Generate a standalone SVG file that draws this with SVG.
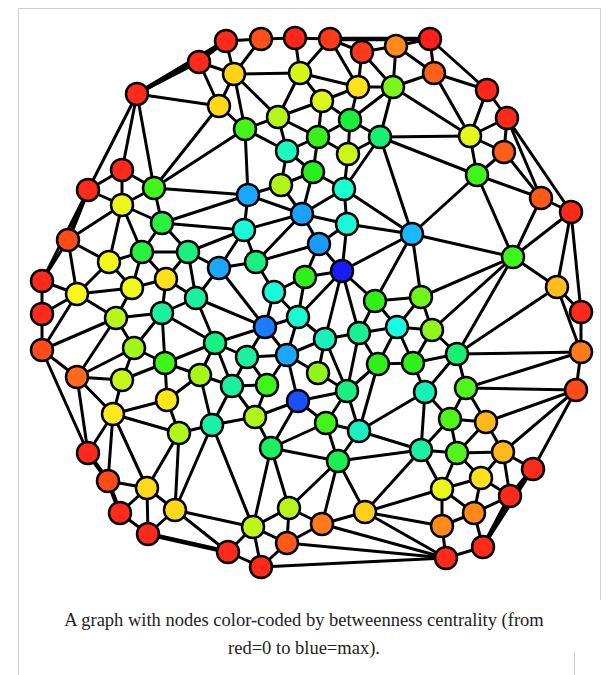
<svg xmlns="http://www.w3.org/2000/svg" width="608" height="675" viewBox="0 0 608 675">
<style>
.e{stroke:#000;stroke-width:3;stroke-linecap:round}
.t{stroke-width:4.5}
.n circle{stroke:#000;stroke-width:2.5}
.cap{font-family:"Liberation Serif","Times New Roman",serif;font-size:18.5px;fill:#222;text-anchor:middle}
</style>
<rect x="0" y="0" width="608" height="675" fill="#fff"/>
<path d="M18.5,675 V8.5 H600.5 V600" fill="none" stroke="#d0d0d0" stroke-width="1"/>
<path d="M574.5,652 V675" fill="none" stroke="#d0d0d0" stroke-width="1"/>
<g id="connectors">
<line class="e t" x1="137" y1="94" x2="226" y2="41"/>
<line class="e" x1="137" y1="94" x2="199" y2="62"/>
<line class="e" x1="137" y1="94" x2="219" y2="106"/>
<line class="e" x1="137" y1="94" x2="122" y2="170"/>
<line class="e" x1="137" y1="94" x2="88" y2="190"/>
<line class="e" x1="137" y1="94" x2="154" y2="188"/>
<line class="e" x1="226" y1="41" x2="261" y2="39"/>
<line class="e" x1="226" y1="41" x2="199" y2="62"/>
<line class="e" x1="226" y1="41" x2="234" y2="74"/>
<line class="e" x1="261" y1="39" x2="295" y2="38"/>
<line class="e" x1="261" y1="39" x2="234" y2="74"/>
<line class="e" x1="295" y1="38" x2="330" y2="39"/>
<line class="e" x1="295" y1="38" x2="300" y2="73"/>
<line class="e" x1="330" y1="39" x2="362" y2="52"/>
<line class="e t" x1="330" y1="39" x2="430" y2="39"/>
<line class="e" x1="330" y1="39" x2="300" y2="73"/>
<line class="e" x1="330" y1="39" x2="358" y2="87"/>
<line class="e" x1="362" y1="52" x2="396" y2="46"/>
<line class="e" x1="362" y1="52" x2="358" y2="87"/>
<line class="e" x1="362" y1="52" x2="393" y2="87"/>
<line class="e" x1="396" y1="46" x2="430" y2="39"/>
<line class="e" x1="396" y1="46" x2="393" y2="87"/>
<line class="e" x1="396" y1="46" x2="434" y2="73"/>
<line class="e" x1="430" y1="39" x2="434" y2="73"/>
<line class="e" x1="430" y1="39" x2="487" y2="90"/>
<line class="e" x1="199" y1="62" x2="234" y2="74"/>
<line class="e" x1="199" y1="62" x2="219" y2="106"/>
<line class="e" x1="234" y1="74" x2="300" y2="73"/>
<line class="e" x1="234" y1="74" x2="219" y2="106"/>
<line class="e" x1="234" y1="74" x2="245" y2="129"/>
<line class="e" x1="234" y1="74" x2="278" y2="117"/>
<line class="e" x1="300" y1="73" x2="358" y2="87"/>
<line class="e" x1="300" y1="73" x2="322" y2="101"/>
<line class="e" x1="300" y1="73" x2="278" y2="117"/>
<line class="e" x1="358" y1="87" x2="393" y2="87"/>
<line class="e" x1="358" y1="87" x2="322" y2="101"/>
<line class="e" x1="358" y1="87" x2="350" y2="120"/>
<line class="e" x1="393" y1="87" x2="350" y2="120"/>
<line class="e" x1="393" y1="87" x2="380" y2="137"/>
<line class="e" x1="393" y1="87" x2="434" y2="73"/>
<line class="e" x1="393" y1="87" x2="470" y2="136"/>
<line class="e" x1="434" y1="73" x2="470" y2="136"/>
<line class="e" x1="434" y1="73" x2="487" y2="90"/>
<line class="e" x1="487" y1="90" x2="507" y2="118"/>
<line class="e" x1="487" y1="90" x2="470" y2="136"/>
<line class="e" x1="507" y1="118" x2="470" y2="136"/>
<line class="e" x1="507" y1="118" x2="504" y2="152"/>
<line class="e" x1="507" y1="118" x2="541" y2="198"/>
<line class="e" x1="507" y1="118" x2="571" y2="212"/>
<line class="e" x1="470" y1="136" x2="504" y2="152"/>
<line class="e" x1="470" y1="136" x2="477" y2="175"/>
<line class="e" x1="470" y1="136" x2="380" y2="137"/>
<line class="e" x1="504" y1="152" x2="541" y2="198"/>
<line class="e" x1="504" y1="152" x2="477" y2="175"/>
<line class="e" x1="477" y1="175" x2="541" y2="198"/>
<line class="e" x1="477" y1="175" x2="380" y2="137"/>
<line class="e" x1="477" y1="175" x2="412" y2="234"/>
<line class="e" x1="477" y1="175" x2="513" y2="257"/>
<line class="e" x1="541" y1="198" x2="571" y2="212"/>
<line class="e" x1="541" y1="198" x2="513" y2="257"/>
<line class="e" x1="571" y1="212" x2="513" y2="257"/>
<line class="e" x1="571" y1="212" x2="557" y2="287"/>
<line class="e" x1="571" y1="212" x2="581" y2="312"/>
<line class="e" x1="219" y1="106" x2="245" y2="129"/>
<line class="e" x1="219" y1="106" x2="154" y2="188"/>
<line class="e" x1="322" y1="101" x2="350" y2="120"/>
<line class="e" x1="322" y1="101" x2="318" y2="137"/>
<line class="e" x1="322" y1="101" x2="278" y2="117"/>
<line class="e" x1="278" y1="117" x2="245" y2="129"/>
<line class="e" x1="278" y1="117" x2="287" y2="151"/>
<line class="e" x1="278" y1="117" x2="318" y2="137"/>
<line class="e" x1="245" y1="129" x2="287" y2="151"/>
<line class="e" x1="245" y1="129" x2="248" y2="195"/>
<line class="e" x1="245" y1="129" x2="154" y2="188"/>
<line class="e" x1="350" y1="120" x2="318" y2="137"/>
<line class="e" x1="350" y1="120" x2="348" y2="154"/>
<line class="e" x1="350" y1="120" x2="380" y2="137"/>
<line class="e" x1="318" y1="137" x2="348" y2="154"/>
<line class="e" x1="318" y1="137" x2="313" y2="172"/>
<line class="e" x1="318" y1="137" x2="287" y2="151"/>
<line class="e" x1="380" y1="137" x2="348" y2="154"/>
<line class="e" x1="380" y1="137" x2="344" y2="189"/>
<line class="e" x1="380" y1="137" x2="412" y2="234"/>
<line class="e" x1="348" y1="154" x2="344" y2="189"/>
<line class="e" x1="287" y1="151" x2="281" y2="185"/>
<line class="e" x1="287" y1="151" x2="313" y2="172"/>
<line class="e" x1="313" y1="172" x2="344" y2="189"/>
<line class="e" x1="313" y1="172" x2="302" y2="214"/>
<line class="e" x1="313" y1="172" x2="281" y2="185"/>
<line class="e" x1="281" y1="185" x2="302" y2="214"/>
<line class="e" x1="281" y1="185" x2="248" y2="195"/>
<line class="e" x1="344" y1="189" x2="347" y2="224"/>
<line class="e" x1="344" y1="189" x2="302" y2="214"/>
<line class="e" x1="344" y1="189" x2="412" y2="234"/>
<line class="e" x1="122" y1="170" x2="88" y2="190"/>
<line class="e" x1="122" y1="170" x2="154" y2="188"/>
<line class="e" x1="122" y1="170" x2="122" y2="205"/>
<line class="e" x1="88" y1="190" x2="122" y2="205"/>
<line class="e t" x1="88" y1="190" x2="68" y2="240"/>
<line class="e" x1="88" y1="190" x2="42" y2="281"/>
<line class="e" x1="154" y1="188" x2="122" y2="205"/>
<line class="e" x1="154" y1="188" x2="162" y2="223"/>
<line class="e" x1="154" y1="188" x2="248" y2="195"/>
<line class="e" x1="122" y1="205" x2="68" y2="240"/>
<line class="e" x1="122" y1="205" x2="109" y2="262"/>
<line class="e" x1="122" y1="205" x2="142" y2="252"/>
<line class="e" x1="122" y1="205" x2="162" y2="223"/>
<line class="e" x1="68" y1="240" x2="42" y2="281"/>
<line class="e" x1="68" y1="240" x2="77" y2="294"/>
<line class="e" x1="68" y1="240" x2="109" y2="262"/>
<line class="e" x1="109" y1="262" x2="142" y2="252"/>
<line class="e" x1="109" y1="262" x2="132" y2="288"/>
<line class="e" x1="109" y1="262" x2="77" y2="294"/>
<line class="e" x1="142" y1="252" x2="162" y2="223"/>
<line class="e" x1="142" y1="252" x2="132" y2="288"/>
<line class="e" x1="142" y1="252" x2="188" y2="252"/>
<line class="e" x1="142" y1="252" x2="166" y2="279"/>
<line class="e" x1="162" y1="223" x2="188" y2="252"/>
<line class="e" x1="162" y1="223" x2="248" y2="195"/>
<line class="e" x1="162" y1="223" x2="244" y2="230"/>
<line class="e" x1="42" y1="281" x2="42" y2="314"/>
<line class="e" x1="42" y1="281" x2="77" y2="294"/>
<line class="e" x1="77" y1="294" x2="132" y2="288"/>
<line class="e" x1="77" y1="294" x2="42" y2="314"/>
<line class="e" x1="77" y1="294" x2="116" y2="318"/>
<line class="e" x1="77" y1="294" x2="42" y2="350"/>
<line class="e" x1="42" y1="314" x2="42" y2="350"/>
<line class="e" x1="132" y1="288" x2="166" y2="279"/>
<line class="e" x1="132" y1="288" x2="116" y2="318"/>
<line class="e" x1="166" y1="279" x2="162" y2="313"/>
<line class="e" x1="166" y1="279" x2="196" y2="298"/>
<line class="e" x1="166" y1="279" x2="188" y2="252"/>
<line class="e" x1="116" y1="318" x2="162" y2="313"/>
<line class="e" x1="116" y1="318" x2="134" y2="348"/>
<line class="e" x1="116" y1="318" x2="42" y2="350"/>
<line class="e" x1="116" y1="318" x2="77" y2="377"/>
<line class="e" x1="162" y1="313" x2="134" y2="348"/>
<line class="e" x1="162" y1="313" x2="165" y2="363"/>
<line class="e" x1="162" y1="313" x2="196" y2="298"/>
<line class="e" x1="162" y1="313" x2="215" y2="343"/>
<line class="e" x1="134" y1="348" x2="165" y2="363"/>
<line class="e" x1="134" y1="348" x2="122" y2="380"/>
<line class="e" x1="134" y1="348" x2="77" y2="377"/>
<line class="e" x1="42" y1="350" x2="77" y2="377"/>
<line class="e" x1="42" y1="350" x2="88" y2="453"/>
<line class="e" x1="77" y1="377" x2="122" y2="380"/>
<line class="e" x1="77" y1="377" x2="88" y2="453"/>
<line class="e" x1="77" y1="377" x2="113" y2="414"/>
<line class="e" x1="165" y1="363" x2="122" y2="380"/>
<line class="e" x1="165" y1="363" x2="167" y2="400"/>
<line class="e" x1="165" y1="363" x2="200" y2="375"/>
<line class="e" x1="165" y1="363" x2="215" y2="343"/>
<line class="e" x1="248" y1="195" x2="244" y2="230"/>
<line class="e" x1="248" y1="195" x2="302" y2="214"/>
<line class="e" x1="244" y1="230" x2="302" y2="214"/>
<line class="e" x1="244" y1="230" x2="219" y2="268"/>
<line class="e" x1="244" y1="230" x2="256" y2="262"/>
<line class="e" x1="244" y1="230" x2="188" y2="252"/>
<line class="e" x1="302" y1="214" x2="256" y2="262"/>
<line class="e" x1="302" y1="214" x2="319" y2="244"/>
<line class="e" x1="302" y1="214" x2="347" y2="224"/>
<line class="e" x1="256" y1="262" x2="219" y2="268"/>
<line class="e" x1="256" y1="262" x2="274" y2="292"/>
<line class="e" x1="256" y1="262" x2="319" y2="244"/>
<line class="e" x1="219" y1="268" x2="188" y2="252"/>
<line class="e" x1="219" y1="268" x2="196" y2="298"/>
<line class="e" x1="219" y1="268" x2="265" y2="327"/>
<line class="e" x1="188" y1="252" x2="196" y2="298"/>
<line class="e" x1="274" y1="292" x2="305" y2="277"/>
<line class="e" x1="274" y1="292" x2="265" y2="327"/>
<line class="e" x1="274" y1="292" x2="298" y2="317"/>
<line class="e" x1="305" y1="277" x2="342" y2="271"/>
<line class="e" x1="305" y1="277" x2="319" y2="244"/>
<line class="e" x1="305" y1="277" x2="298" y2="317"/>
<line class="e" x1="196" y1="298" x2="265" y2="327"/>
<line class="e" x1="196" y1="298" x2="215" y2="343"/>
<line class="e" x1="265" y1="327" x2="298" y2="317"/>
<line class="e" x1="265" y1="327" x2="215" y2="343"/>
<line class="e" x1="265" y1="327" x2="287" y2="355"/>
<line class="e" x1="265" y1="327" x2="247" y2="357"/>
<line class="e" x1="298" y1="317" x2="287" y2="355"/>
<line class="e" x1="298" y1="317" x2="325" y2="339"/>
<line class="e" x1="298" y1="317" x2="342" y2="271"/>
<line class="e" x1="215" y1="343" x2="247" y2="357"/>
<line class="e" x1="215" y1="343" x2="200" y2="375"/>
<line class="e" x1="215" y1="343" x2="232" y2="386"/>
<line class="e" x1="247" y1="357" x2="287" y2="355"/>
<line class="e" x1="247" y1="357" x2="232" y2="386"/>
<line class="e" x1="247" y1="357" x2="267" y2="385"/>
<line class="e" x1="287" y1="355" x2="267" y2="385"/>
<line class="e" x1="287" y1="355" x2="298" y2="401"/>
<line class="e" x1="287" y1="355" x2="325" y2="339"/>
<line class="e" x1="287" y1="355" x2="318" y2="373"/>
<line class="e" x1="200" y1="375" x2="232" y2="386"/>
<line class="e" x1="200" y1="375" x2="167" y2="400"/>
<line class="e" x1="200" y1="375" x2="212" y2="425"/>
<line class="e" x1="347" y1="224" x2="319" y2="244"/>
<line class="e" x1="347" y1="224" x2="342" y2="271"/>
<line class="e" x1="347" y1="224" x2="412" y2="234"/>
<line class="e" x1="319" y1="244" x2="342" y2="271"/>
<line class="e" x1="342" y1="271" x2="412" y2="234"/>
<line class="e" x1="342" y1="271" x2="375" y2="301"/>
<line class="e" x1="342" y1="271" x2="359" y2="333"/>
<line class="e" x1="342" y1="271" x2="325" y2="339"/>
<line class="e" x1="412" y1="234" x2="375" y2="301"/>
<line class="e" x1="412" y1="234" x2="421" y2="297"/>
<line class="e" x1="412" y1="234" x2="513" y2="257"/>
<line class="e" x1="375" y1="301" x2="421" y2="297"/>
<line class="e" x1="375" y1="301" x2="397" y2="327"/>
<line class="e" x1="375" y1="301" x2="359" y2="333"/>
<line class="e" x1="421" y1="297" x2="397" y2="327"/>
<line class="e" x1="421" y1="297" x2="432" y2="330"/>
<line class="e" x1="421" y1="297" x2="513" y2="257"/>
<line class="e" x1="397" y1="327" x2="359" y2="333"/>
<line class="e" x1="397" y1="327" x2="432" y2="330"/>
<line class="e" x1="397" y1="327" x2="378" y2="364"/>
<line class="e" x1="397" y1="327" x2="413" y2="363"/>
<line class="e" x1="359" y1="333" x2="325" y2="339"/>
<line class="e" x1="359" y1="333" x2="378" y2="364"/>
<line class="e" x1="359" y1="333" x2="347" y2="391"/>
<line class="e" x1="325" y1="339" x2="318" y2="373"/>
<line class="e" x1="325" y1="339" x2="347" y2="391"/>
<line class="e" x1="378" y1="364" x2="413" y2="363"/>
<line class="e" x1="378" y1="364" x2="347" y2="391"/>
<line class="e" x1="378" y1="364" x2="359" y2="431"/>
<line class="e" x1="413" y1="363" x2="432" y2="330"/>
<line class="e" x1="413" y1="363" x2="457" y2="354"/>
<line class="e" x1="413" y1="363" x2="425" y2="392"/>
<line class="e" x1="432" y1="330" x2="457" y2="354"/>
<line class="e" x1="432" y1="330" x2="513" y2="257"/>
<line class="e" x1="318" y1="373" x2="347" y2="391"/>
<line class="e" x1="513" y1="257" x2="557" y2="287"/>
<line class="e" x1="513" y1="257" x2="457" y2="354"/>
<line class="e" x1="557" y1="287" x2="581" y2="312"/>
<line class="e" x1="557" y1="287" x2="581" y2="352"/>
<line class="e" x1="557" y1="287" x2="457" y2="354"/>
<line class="e" x1="581" y1="312" x2="581" y2="352"/>
<line class="e" x1="581" y1="352" x2="457" y2="354"/>
<line class="e" x1="581" y1="352" x2="466" y2="388"/>
<line class="e" x1="581" y1="352" x2="576" y2="390"/>
<line class="e" x1="457" y1="354" x2="466" y2="388"/>
<line class="e" x1="457" y1="354" x2="425" y2="392"/>
<line class="e" x1="466" y1="388" x2="576" y2="390"/>
<line class="e" x1="466" y1="388" x2="450" y2="419"/>
<line class="e" x1="466" y1="388" x2="486" y2="422"/>
<line class="e" x1="576" y1="390" x2="486" y2="422"/>
<line class="e" x1="576" y1="390" x2="503" y2="452"/>
<line class="e" x1="576" y1="390" x2="533" y2="469"/>
<line class="e" x1="450" y1="419" x2="486" y2="422"/>
<line class="e" x1="450" y1="419" x2="457" y2="453"/>
<line class="e" x1="450" y1="419" x2="425" y2="392"/>
<line class="e" x1="450" y1="419" x2="421" y2="450"/>
<line class="e" x1="486" y1="422" x2="457" y2="453"/>
<line class="e" x1="486" y1="422" x2="503" y2="452"/>
<line class="e" x1="457" y1="453" x2="503" y2="452"/>
<line class="e" x1="457" y1="453" x2="481" y2="478"/>
<line class="e" x1="457" y1="453" x2="442" y2="489"/>
<line class="e" x1="457" y1="453" x2="421" y2="450"/>
<line class="e" x1="503" y1="452" x2="481" y2="478"/>
<line class="e" x1="503" y1="452" x2="510" y2="496"/>
<line class="e" x1="503" y1="452" x2="533" y2="469"/>
<line class="e t" x1="533" y1="469" x2="510" y2="496"/>
<line class="e" x1="533" y1="469" x2="483" y2="547"/>
<line class="e t" x1="510" y1="496" x2="483" y2="547"/>
<line class="e" x1="481" y1="478" x2="442" y2="489"/>
<line class="e" x1="481" y1="478" x2="474" y2="513"/>
<line class="e" x1="481" y1="478" x2="510" y2="496"/>
<line class="e" x1="442" y1="489" x2="474" y2="513"/>
<line class="e" x1="442" y1="489" x2="442" y2="526"/>
<line class="e" x1="474" y1="513" x2="510" y2="496"/>
<line class="e" x1="474" y1="513" x2="442" y2="526"/>
<line class="e" x1="474" y1="513" x2="483" y2="547"/>
<line class="e" x1="442" y1="526" x2="446" y2="558"/>
<line class="e" x1="483" y1="547" x2="446" y2="558"/>
<line class="e" x1="347" y1="391" x2="298" y2="401"/>
<line class="e" x1="347" y1="391" x2="326" y2="423"/>
<line class="e" x1="347" y1="391" x2="359" y2="431"/>
<line class="e" x1="425" y1="392" x2="421" y2="450"/>
<line class="e" x1="425" y1="392" x2="359" y2="431"/>
<line class="e" x1="359" y1="431" x2="326" y2="423"/>
<line class="e" x1="359" y1="431" x2="421" y2="450"/>
<line class="e" x1="359" y1="431" x2="338" y2="461"/>
<line class="e" x1="326" y1="423" x2="338" y2="461"/>
<line class="e" x1="326" y1="423" x2="271" y2="448"/>
<line class="e" x1="326" y1="423" x2="298" y2="401"/>
<line class="e" x1="421" y1="450" x2="442" y2="489"/>
<line class="e" x1="421" y1="450" x2="338" y2="461"/>
<line class="e" x1="421" y1="450" x2="365" y2="512"/>
<line class="e" x1="338" y1="461" x2="365" y2="512"/>
<line class="e" x1="338" y1="461" x2="322" y2="524"/>
<line class="e" x1="338" y1="461" x2="271" y2="448"/>
<line class="e" x1="338" y1="461" x2="289" y2="508"/>
<line class="e" x1="365" y1="512" x2="442" y2="489"/>
<line class="e" x1="365" y1="512" x2="442" y2="526"/>
<line class="e" x1="365" y1="512" x2="322" y2="524"/>
<line class="e" x1="365" y1="512" x2="446" y2="558"/>
<line class="e" x1="322" y1="524" x2="446" y2="558"/>
<line class="e" x1="322" y1="524" x2="289" y2="508"/>
<line class="e" x1="322" y1="524" x2="287" y2="543"/>
<line class="e" x1="287" y1="543" x2="446" y2="558"/>
<line class="e" x1="261" y1="567" x2="446" y2="558"/>
<line class="e" x1="212" y1="425" x2="232" y2="386"/>
<line class="e" x1="212" y1="425" x2="179" y2="433"/>
<line class="e" x1="212" y1="425" x2="255" y2="417"/>
<line class="e" x1="212" y1="425" x2="175" y2="510"/>
<line class="e" x1="212" y1="425" x2="253" y2="527"/>
<line class="e" x1="232" y1="386" x2="267" y2="385"/>
<line class="e" x1="232" y1="386" x2="255" y2="417"/>
<line class="e" x1="267" y1="385" x2="255" y2="417"/>
<line class="e" x1="255" y1="417" x2="271" y2="448"/>
<line class="e" x1="255" y1="417" x2="298" y2="401"/>
<line class="e" x1="271" y1="448" x2="298" y2="401"/>
<line class="e" x1="271" y1="448" x2="253" y2="527"/>
<line class="e" x1="271" y1="448" x2="289" y2="508"/>
<line class="e" x1="167" y1="400" x2="179" y2="433"/>
<line class="e" x1="167" y1="400" x2="113" y2="414"/>
<line class="e" x1="179" y1="433" x2="175" y2="510"/>
<line class="e" x1="179" y1="433" x2="147" y2="488"/>
<line class="e" x1="179" y1="433" x2="113" y2="414"/>
<line class="e" x1="175" y1="510" x2="253" y2="527"/>
<line class="e" x1="175" y1="510" x2="228" y2="552"/>
<line class="e" x1="175" y1="510" x2="147" y2="488"/>
<line class="e" x1="175" y1="510" x2="148" y2="534"/>
<line class="e" x1="253" y1="527" x2="228" y2="552"/>
<line class="e" x1="253" y1="527" x2="261" y2="567"/>
<line class="e" x1="253" y1="527" x2="289" y2="508"/>
<line class="e" x1="253" y1="527" x2="287" y2="543"/>
<line class="e" x1="289" y1="508" x2="287" y2="543"/>
<line class="e" x1="287" y1="543" x2="261" y2="567"/>
<line class="e" x1="228" y1="552" x2="261" y2="567"/>
<line class="e" x1="113" y1="414" x2="122" y2="380"/>
<line class="e" x1="113" y1="414" x2="88" y2="453"/>
<line class="e" x1="113" y1="414" x2="108" y2="481"/>
<line class="e" x1="113" y1="414" x2="147" y2="488"/>
<line class="e t" x1="88" y1="453" x2="108" y2="481"/>
<line class="e" x1="108" y1="481" x2="147" y2="488"/>
<line class="e t" x1="108" y1="481" x2="120" y2="513"/>
<line class="e" x1="147" y1="488" x2="120" y2="513"/>
<line class="e" x1="147" y1="488" x2="148" y2="534"/>
<line class="e" x1="120" y1="513" x2="148" y2="534"/>
<line class="e t" x1="148" y1="534" x2="228" y2="552"/>
</g>
<g class="n">
<g id="n1"><circle cx="226" cy="41" r="11" fill="#ff2a1a"/></g>
<g id="n2"><circle cx="261" cy="39" r="11" fill="#ff4f1a"/></g>
<g id="n3"><circle cx="295" cy="38" r="11" fill="#ff261a"/></g>
<g id="n4"><circle cx="330" cy="39" r="11" fill="#ff3a1a"/></g>
<g id="n5"><circle cx="362" cy="52" r="11" fill="#ff3a1a"/></g>
<g id="n6"><circle cx="396" cy="46" r="11" fill="#ff8a1a"/></g>
<g id="n7"><circle cx="430" cy="39" r="11" fill="#ff1f1a"/></g>
<g id="n8"><circle cx="199" cy="62" r="11" fill="#ff2a1a"/></g>
<g id="n9"><circle cx="234" cy="74" r="11" fill="#ffd21a"/></g>
<g id="n10"><circle cx="300" cy="73" r="11" fill="#d8f51a"/></g>
<g id="n11"><circle cx="434" cy="73" r="11" fill="#ff5f1a"/></g>
<g id="n12"><circle cx="358" cy="87" r="11" fill="#ffe21a"/></g>
<g id="n13"><circle cx="393" cy="87" r="11" fill="#7cf51a"/></g>
<g id="n14"><circle cx="137" cy="94" r="11" fill="#ff2a1a"/></g>
<g id="n15"><circle cx="487" cy="90" r="11" fill="#ff261a"/></g>
<g id="n16"><circle cx="507" cy="118" r="11" fill="#ff2a1a"/></g>
<g id="n17"><circle cx="219" cy="106" r="11" fill="#ffd81a"/></g>
<g id="n18"><circle cx="322" cy="101" r="11" fill="#dcf51a"/></g>
<g id="n19"><circle cx="278" cy="117" r="11" fill="#b4f51a"/></g>
<g id="n20"><circle cx="245" cy="129" r="11" fill="#45f51a"/></g>
<g id="n21"><circle cx="318" cy="137" r="11" fill="#38f01a"/></g>
<g id="n22"><circle cx="350" cy="120" r="11" fill="#1af03c"/></g>
<g id="n23"><circle cx="380" cy="137" r="11" fill="#1af074"/></g>
<g id="n24"><circle cx="470" cy="136" r="11" fill="#e5f81a"/></g>
<g id="n25"><circle cx="504" cy="152" r="11" fill="#ff5f1a"/></g>
<g id="n26"><circle cx="287" cy="151" r="11" fill="#1afac0"/></g>
<g id="n27"><circle cx="348" cy="154" r="11" fill="#ccf51a"/></g>
<g id="n28"><circle cx="122" cy="170" r="11" fill="#ff2a1a"/></g>
<g id="n29"><circle cx="313" cy="172" r="11" fill="#28f01a"/></g>
<g id="n30"><circle cx="344" cy="189" r="11" fill="#1affd0"/></g>
<g id="n31"><circle cx="281" cy="185" r="11" fill="#b0f51a"/></g>
<g id="n32"><circle cx="477" cy="175" r="11" fill="#40f51a"/></g>
<g id="n33"><circle cx="88" cy="190" r="11" fill="#ff2a1a"/></g>
<g id="n34"><circle cx="154" cy="188" r="11" fill="#40f51a"/></g>
<g id="n35"><circle cx="122" cy="205" r="11" fill="#e8f81a"/></g>
<g id="n36"><circle cx="248" cy="195" r="11" fill="#1aa8ff"/></g>
<g id="n37"><circle cx="541" cy="198" r="11" fill="#ff5a1a"/></g>
<g id="n38"><circle cx="571" cy="212" r="11" fill="#ff2a1a"/></g>
<g id="n39"><circle cx="302" cy="214" r="11" fill="#1aa0ff"/></g>
<g id="n40"><circle cx="162" cy="223" r="11" fill="#2af040"/></g>
<g id="n41"><circle cx="347" cy="224" r="11" fill="#1afad8"/></g>
<g id="n42"><circle cx="412" cy="234" r="11" fill="#1ab8ff"/></g>
<g id="n43"><circle cx="68" cy="240" r="11" fill="#ff4a1a"/></g>
<g id="n44"><circle cx="244" cy="230" r="11" fill="#1afad8"/></g>
<g id="n45"><circle cx="319" cy="244" r="11" fill="#1a9cff"/></g>
<g id="n46"><circle cx="142" cy="252" r="11" fill="#2af040"/></g>
<g id="n47"><circle cx="188" cy="252" r="11" fill="#1af080"/></g>
<g id="n48"><circle cx="109" cy="262" r="11" fill="#f0f81a"/></g>
<g id="n49"><circle cx="513" cy="257" r="11" fill="#40f51a"/></g>
<g id="n50"><circle cx="256" cy="262" r="11" fill="#1af080"/></g>
<g id="n51"><circle cx="219" cy="268" r="11" fill="#1aa8ff"/></g>
<g id="n52"><circle cx="342" cy="271" r="11" fill="#1a1aff"/></g>
<g id="n53"><circle cx="305" cy="277" r="11" fill="#30f01a"/></g>
<g id="n54"><circle cx="42" cy="281" r="11" fill="#ff2a1a"/></g>
<g id="n55"><circle cx="166" cy="279" r="11" fill="#ffe01a"/></g>
<g id="n56"><circle cx="132" cy="288" r="11" fill="#f0f81a"/></g>
<g id="n57"><circle cx="77" cy="294" r="11" fill="#f5f81a"/></g>
<g id="n58"><circle cx="557" cy="287" r="11" fill="#ffbc1a"/></g>
<g id="n59"><circle cx="274" cy="292" r="11" fill="#1afad8"/></g>
<g id="n60"><circle cx="196" cy="298" r="11" fill="#1af0a0"/></g>
<g id="n61"><circle cx="375" cy="301" r="11" fill="#30f01a"/></g>
<g id="n62"><circle cx="421" cy="297" r="11" fill="#70f51a"/></g>
<g id="n63"><circle cx="42" cy="314" r="11" fill="#ff2a1a"/></g>
<g id="n64"><circle cx="116" cy="318" r="11" fill="#b8f51a"/></g>
<g id="n65"><circle cx="162" cy="313" r="11" fill="#1af0a0"/></g>
<g id="n66"><circle cx="298" cy="317" r="11" fill="#1afad0"/></g>
<g id="n67"><circle cx="265" cy="327" r="11" fill="#1a7cff"/></g>
<g id="n68"><circle cx="397" cy="327" r="11" fill="#1afae0"/></g>
<g id="n69"><circle cx="432" cy="330" r="11" fill="#90f51a"/></g>
<g id="n70"><circle cx="581" cy="312" r="11" fill="#ff2a1a"/></g>
<g id="n71"><circle cx="359" cy="333" r="11" fill="#1af090"/></g>
<g id="n72"><circle cx="325" cy="339" r="11" fill="#1af0b8"/></g>
<g id="n73"><circle cx="134" cy="348" r="11" fill="#a0f51a"/></g>
<g id="n74"><circle cx="215" cy="343" r="11" fill="#1af080"/></g>
<g id="n75"><circle cx="247" cy="357" r="11" fill="#1af0a0"/></g>
<g id="n76"><circle cx="287" cy="355" r="11" fill="#1aa8ff"/></g>
<g id="n77"><circle cx="165" cy="363" r="11" fill="#40f51a"/></g>
<g id="n78"><circle cx="42" cy="350" r="11" fill="#ff4a1a"/></g>
<g id="n79"><circle cx="457" cy="354" r="11" fill="#1af070"/></g>
<g id="n80"><circle cx="581" cy="352" r="11" fill="#ff7a1a"/></g>
<g id="n81"><circle cx="378" cy="364" r="11" fill="#30f01a"/></g>
<g id="n82"><circle cx="413" cy="363" r="11" fill="#30f01a"/></g>
<g id="n83"><circle cx="318" cy="373" r="11" fill="#90f51a"/></g>
<g id="n84"><circle cx="77" cy="377" r="11" fill="#ff6a1a"/></g>
<g id="n85"><circle cx="122" cy="380" r="11" fill="#c8f51a"/></g>
<g id="n86"><circle cx="200" cy="375" r="11" fill="#a8f51a"/></g>
<g id="n87"><circle cx="232" cy="386" r="11" fill="#1af0a0"/></g>
<g id="n88"><circle cx="267" cy="385" r="11" fill="#40f51a"/></g>
<g id="n89"><circle cx="347" cy="391" r="11" fill="#1af080"/></g>
<g id="n90"><circle cx="425" cy="392" r="11" fill="#1af0b8"/></g>
<g id="n91"><circle cx="466" cy="388" r="11" fill="#50f51a"/></g>
<g id="n92"><circle cx="576" cy="390" r="11" fill="#ff4a1a"/></g>
<g id="n93"><circle cx="298" cy="401" r="11" fill="#1a50ff"/></g>
<g id="n94"><circle cx="167" cy="400" r="11" fill="#ffe81a"/></g>
<g id="n95"><circle cx="113" cy="414" r="11" fill="#ffe81a"/></g>
<g id="n96"><circle cx="255" cy="417" r="11" fill="#b0f51a"/></g>
<g id="n97"><circle cx="212" cy="425" r="11" fill="#1af0a8"/></g>
<g id="n98"><circle cx="179" cy="433" r="11" fill="#b0f51a"/></g>
<g id="n99"><circle cx="326" cy="423" r="11" fill="#40f51a"/></g>
<g id="n100"><circle cx="359" cy="431" r="11" fill="#1af0c0"/></g>
<g id="n101"><circle cx="450" cy="419" r="11" fill="#50f51a"/></g>
<g id="n102"><circle cx="486" cy="422" r="11" fill="#ffb81a"/></g>
<g id="n103"><circle cx="271" cy="448" r="11" fill="#1af060"/></g>
<g id="n104"><circle cx="338" cy="461" r="11" fill="#1af050"/></g>
<g id="n105"><circle cx="421" cy="450" r="11" fill="#1af0a8"/></g>
<g id="n106"><circle cx="457" cy="453" r="11" fill="#50f51a"/></g>
<g id="n107"><circle cx="503" cy="452" r="11" fill="#ffb81a"/></g>
<g id="n108"><circle cx="88" cy="453" r="11" fill="#ff2a1a"/></g>
<g id="n109"><circle cx="533" cy="469" r="11" fill="#ff2a1a"/></g>
<g id="n110"><circle cx="481" cy="478" r="11" fill="#ffe01a"/></g>
<g id="n111"><circle cx="108" cy="481" r="11" fill="#ff4a1a"/></g>
<g id="n112"><circle cx="147" cy="488" r="11" fill="#ffd81a"/></g>
<g id="n113"><circle cx="442" cy="489" r="11" fill="#e8f81a"/></g>
<g id="n114"><circle cx="510" cy="496" r="11" fill="#ff2a1a"/></g>
<g id="n115"><circle cx="289" cy="508" r="11" fill="#b8f51a"/></g>
<g id="n116"><circle cx="175" cy="510" r="11" fill="#ffd81a"/></g>
<g id="n117"><circle cx="365" cy="512" r="11" fill="#ffd01a"/></g>
<g id="n118"><circle cx="474" cy="513" r="11" fill="#ff8a1a"/></g>
<g id="n119"><circle cx="120" cy="513" r="11" fill="#ff2a1a"/></g>
<g id="n120"><circle cx="322" cy="524" r="11" fill="#ff7a1a"/></g>
<g id="n121"><circle cx="442" cy="526" r="11" fill="#ff8a1a"/></g>
<g id="n122"><circle cx="253" cy="527" r="11" fill="#c0f51a"/></g>
<g id="n123"><circle cx="148" cy="534" r="11" fill="#ff2a1a"/></g>
<g id="n124"><circle cx="287" cy="543" r="11" fill="#ff5a1a"/></g>
<g id="n125"><circle cx="483" cy="547" r="11" fill="#ff2a1a"/></g>
<g id="n126"><circle cx="228" cy="552" r="11" fill="#ff2a1a"/></g>
<g id="n127"><circle cx="446" cy="558" r="11" fill="#ff2a1a"/></g>
<g id="n128"><circle cx="261" cy="567" r="11" fill="#ff2a1a"/></g>
</g>
<text class="cap" x="304" y="626">A graph with nodes color-coded by betweenness centrality (from</text>
<text class="cap" x="304" y="654">red=0 to blue=max).</text>
</svg>
